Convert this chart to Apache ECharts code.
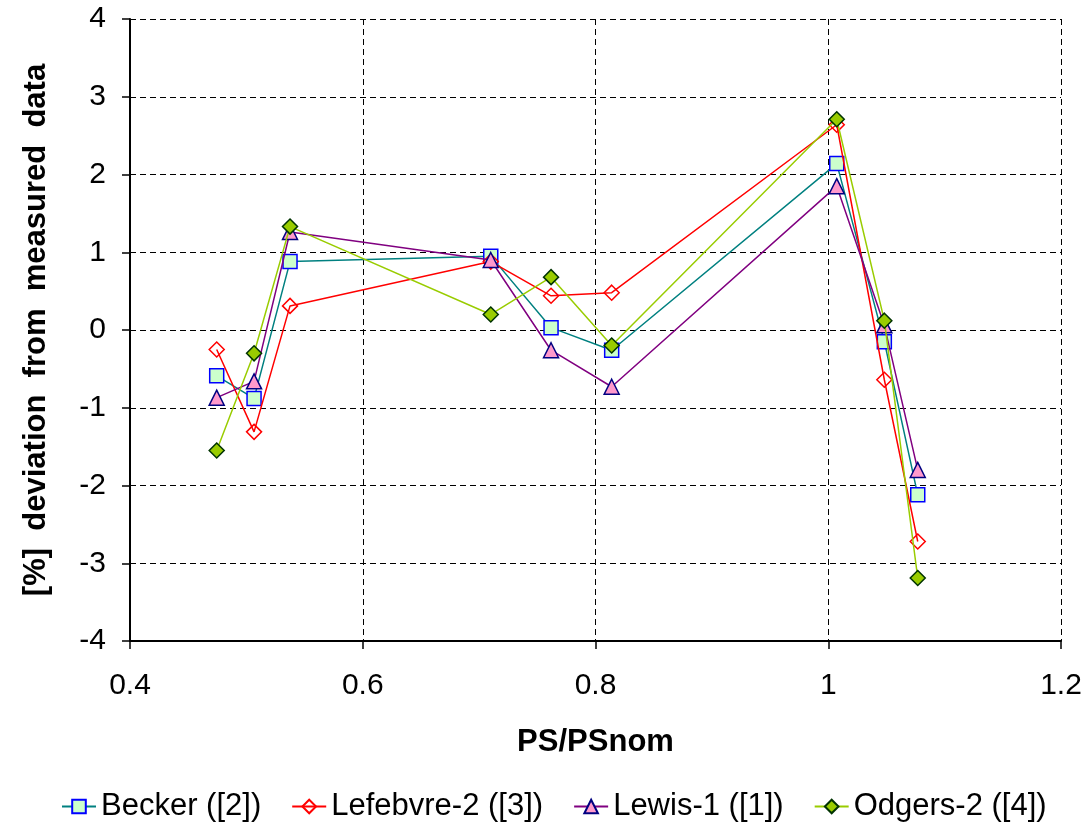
<!DOCTYPE html>
<html>
<head>
<meta charset="utf-8">
<script src="https://cdn.jsdelivr.net/npm/echarts@6/dist/echarts.min.js"></script>
<style>
  html, body { margin: 0; padding: 0; background: #fff; }
  #chart { width: 1086px; height: 827px; }
</style>
</head>
<body>
<div id="chart"></div>
<script>
// Relative power PS/PSnom at each operating point
const psRatio = [0.4745, 0.5066, 0.5375, 0.7100, 0.7618, 0.8139, 1.0073, 1.0482, 1.0769];

// Deviation from measured data, in percent
const becker     = [-0.59, -0.88, 0.88, 0.95, 0.03, -0.26, 2.14, -0.15, -2.12];
const lefebvre2  = [-0.25, -1.31, 0.31, 0.88, 0.44, 0.48, 2.64, -0.64, -2.72];
const lewis1     = [-0.87, -0.66, 1.26, 0.90, -0.26, -0.73, 1.85, 0.06, -1.80];
const odgers2    = [-1.55, -0.30, 1.33, 0.20, 0.68, -0.20, 2.71, 0.12, -3.19];

const seriesNames = ['Becker ([2])', 'Lefebvre-2 ([3])', 'Lewis-1 ([1])', 'Odgers-2 ([4])'];

const pairs = ys => psRatio.map((x, i) => [x, ys[i]]);

const font = 'Liberation Sans, Arial, sans-serif';
const dashedGrid = { show: true, lineStyle: { color: '#000', width: 1, type: [6, 4] } };

const chart = echarts.init(document.getElementById('chart'), null, { renderer: 'canvas' });

chart.setOption({
  backgroundColor: '#fff',
  animation: false,
  textStyle: { fontFamily: font },
  grid: { left: 130, right: 25, top: 19, bottom: 186 },
  legend: {
    bottom: 0,
    left: 56,
    itemWidth: 34,
    itemHeight: 17,
    itemGap: 30,
    textStyle: { fontSize: 31, color: '#000', fontFamily: font },
    data: seriesNames
  },
  xAxis: {
    type: 'value',
    min: 0.4, max: 1.2, interval: 0.2,
    name: 'PS/PSnom',
    nameLocation: 'middle',
    nameGap: 86,
    nameTextStyle: { fontSize: 31, fontWeight: 'bold', color: '#000' },
    axisLine: { show: true, onZero: false, lineStyle: { color: '#000', width: 2 } },
    axisTick: { show: true, length: 8, lineStyle: { color: '#000', width: 1.5 } },
    axisLabel: { fontSize: 30, color: '#000', margin: 30 },
    splitLine: dashedGrid
  },
  yAxis: {
    type: 'value',
    min: -4, max: 4, interval: 1,
    name: '[%]  deviation  from  measured  data',
    nameLocation: 'middle',
    nameGap: 78,
    nameTextStyle: { fontSize: 31, fontWeight: 'bold', color: '#000' },
    axisLine: { show: true, onZero: false, lineStyle: { color: '#000', width: 2 } },
    axisTick: { show: true, length: 8, lineStyle: { color: '#000', width: 1.5 } },
    axisLabel: { fontSize: 30, color: '#000', margin: 24 },
    splitLine: dashedGrid
  },
  series: [
    {
      name: seriesNames[0], type: 'line', data: pairs(becker),
      symbol: 'rect', symbolSize: 14,
      lineStyle: { color: '#008080', width: 1.5 },
      itemStyle: { color: '#ccffcc', borderColor: '#0000ff', borderWidth: 1.5 },
      z: 2
    },
    {
      name: seriesNames[1], type: 'line', data: pairs(lefebvre2),
      symbol: 'diamond', symbolSize: 15,
      lineStyle: { color: '#ff0000', width: 1.5 },
      itemStyle: { color: 'rgba(255,255,255,0)', borderColor: '#ff0000', borderWidth: 1.5 },
      z: 3
    },
    {
      name: seriesNames[2], type: 'line', data: pairs(lewis1),
      symbol: 'triangle', symbolSize: 15,
      lineStyle: { color: '#800080', width: 1.5 },
      itemStyle: { color: '#ff99cc', borderColor: '#000080', borderWidth: 1.5 },
      z: 4
    },
    {
      name: seriesNames[3], type: 'line', data: pairs(odgers2),
      symbol: 'diamond', symbolSize: 15,
      lineStyle: { color: '#99cc00', width: 1.5 },
      itemStyle: { color: '#99cc00', borderColor: '#003300', borderWidth: 1.5 },
      z: 5
    }
  ]
});
</script>
</body>
</html>
